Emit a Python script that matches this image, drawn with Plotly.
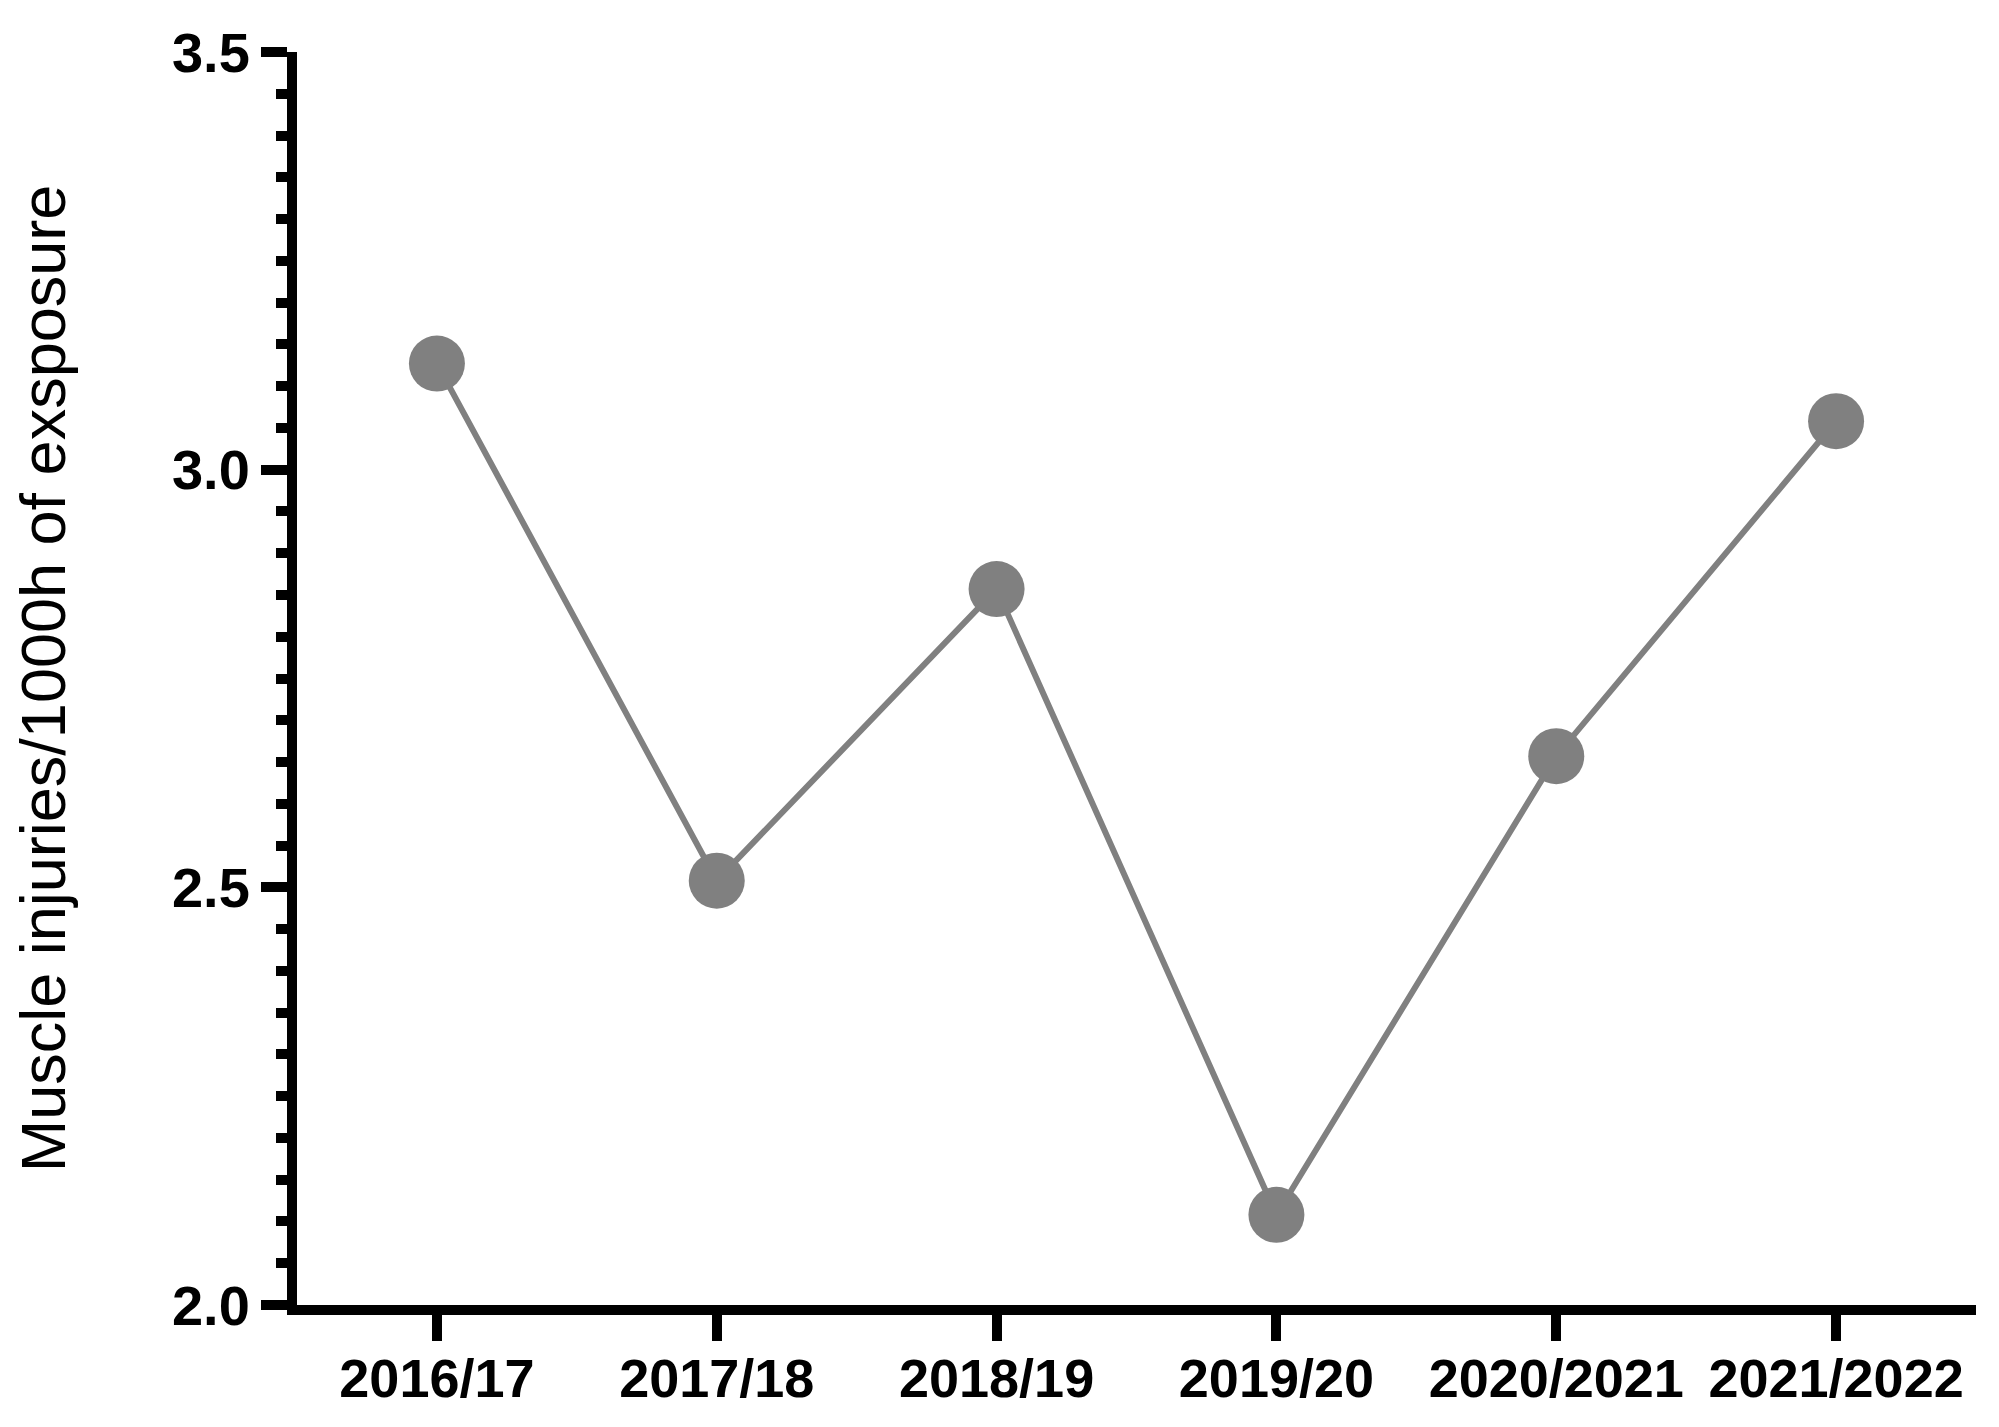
import plotly.graph_objects as go

seasons = ["2016/17", "2017/18", "2018/19", "2019/20", "2020/2021", "2021/2022"]
injury_rate = [3.127, 2.508, 2.857, 2.108, 2.657, 3.058]

y_ticks = [2.0, 2.5, 3.0, 3.5]
y_ticklabels = ["2.0", "2.5", "3.0", "3.5"]

gray = "#808080"

fig = go.Figure(
    go.Scatter(
        x=list(range(len(seasons))),
        y=injury_rate,
        mode="lines+markers",
        line=dict(color=gray, width=6),
        marker=dict(color=gray, size=56),
    )
)

fig.update_layout(
    width=1999,
    height=1427,
    plot_bgcolor="white",
    paper_bgcolor="white",
    showlegend=False,
    margin=dict(l=289, r=31, t=44, b=130),
    font=dict(family="Liberation Sans", color="black"),
)

fig.update_xaxes(
    range=[-0.5, 5.5],
    tickmode="array",
    tickvals=list(range(len(seasons))),
    ticktext=seasons,
    showgrid=False,
    zeroline=False,
    showline=True,
    linecolor="black",
    linewidth=10,
    ticks="outside",
    ticklen=26,
    tickwidth=10,
    tickcolor="black",
    ticklabelstandoff=-9,
    tickfont=dict(family="Liberation Sans", size=54, color="black", weight="bold"),
)

fig.update_yaxes(
    range=[2.0, 3.5],
    tickmode="array",
    tickvals=y_ticks,
    ticktext=y_ticklabels,
    showgrid=False,
    zeroline=False,
    showline=True,
    linecolor="black",
    linewidth=10,
    ticks="outside",
    ticklen=26,
    tickwidth=10,
    tickcolor="black",
    tickfont=dict(family="Liberation Sans", size=56, color="black", weight="bold"),
    minor=dict(dtick=0.05, ticks="outside", ticklen=11, tickwidth=10, tickcolor="black", showgrid=False),
    title=dict(text="Muscle injuries/1000h of exsposure",
               font=dict(family="Liberation Sans", size=63, color="black"),
               standoff=95),
)

fig.write_html("out.html")
